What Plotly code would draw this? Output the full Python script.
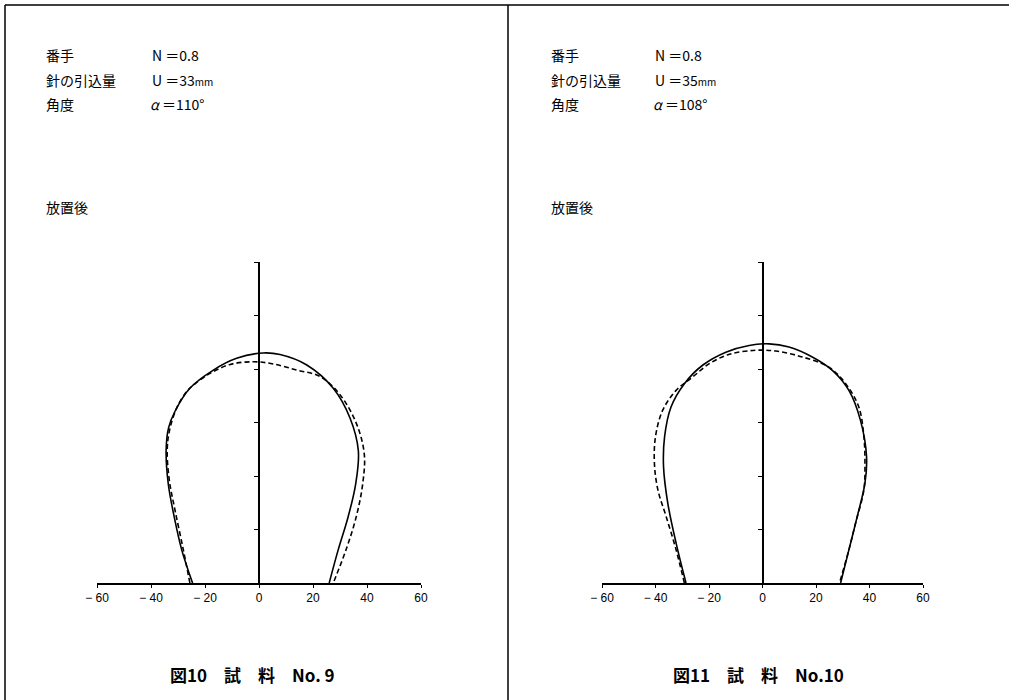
import plotly.graph_objects as go

# --- Fig.10 sample No.9 : cross-section profile (solid = before, dashed = after) ---
s9_solid_x = [-24.6, -28.6, -31.4, -33.6, -34.4, -33.5, -31.1, -25.6, -16.9, -8.3, 1.6, 7.8, 17.7, 27.5, 33.7, 36.8, 35.8, 33.0, 29.3, 26.0]
s9_solid_y = [0.0, 12.3, 24.7, 37.0, 49.4, 58.0, 64.2, 72.8, 79.6, 84.0, 86.0, 85.4, 81.5, 72.8, 61.7, 49.4, 37.0, 24.7, 12.3, 0.0]
s9_dash_x = [-25.6, -28.0, -31.1, -33.2, -34.0, -33.2, -30.5, -26.8, -24.3, -18.1, -10.7, -2.1, 5.3, 14.0, 22.6, 30.0, 36.2, 39.0, 38.4, 36.0, 32.2, 27.5]
s9_dash_y = [0.0, 12.3, 27.2, 38.3, 49.4, 56.8, 65.4, 71.6, 74.0, 78.4, 81.7, 82.7, 81.9, 79.6, 77.2, 70.4, 59.3, 48.1, 37.0, 24.7, 12.3, 0.0]

# --- Fig.11 sample No.10 ---
s10_solid_x = [-28.6, -32.3, -35.4, -37.0, -36.6, -34.2, -29.2, -22.4, -13.7, -5.0, 2.5, 9.9, 18.6, 26.1, 32.3, 36.6, 38.9, 38.3, 35.4, 32.3, 29.2]
s10_solid_y = [0.0, 14.9, 29.8, 43.5, 54.7, 65.8, 74.5, 81.4, 86.3, 88.8, 89.4, 88.2, 84.5, 79.5, 72.0, 60.9, 47.2, 37.3, 24.8, 12.4, 0.0]
s10_dash_x = [-29.2, -32.3, -36.0, -39.1, -40.4, -40.0, -37.3, -32.3, -26.1, -19.9, -12.4, -2.5, 5.0, 14.9, 24.8, 31.1, 36.0, 37.9, 38.3, 37.9, 34.8, 32.3, 28.8]
s10_dash_y = [0.0, 12.4, 24.8, 34.8, 44.7, 54.7, 64.6, 72.0, 77.0, 82.0, 85.5, 87.0, 86.7, 84.5, 80.7, 74.5, 65.8, 54.7, 44.7, 34.8, 22.4, 12.4, 0.0]

x_ticks = [-60, -40, -20, 0, 20, 40, 60]
x_tick_text = ["− 60", "− 40", "− 20", "0", "20", "40", "60"]
y_ticks = [0, 20, 40, 60, 80, 100, 120]

W, H = 1009, 700

fig = go.Figure()

def add_profile(xs, ys, xa, ya, dash):
    fig.add_trace(go.Scatter(
        x=xs, y=ys, xaxis=xa, yaxis=ya, mode="lines",
        line=dict(color="black", width=1.6, shape="spline", smoothing=1.0, dash=dash),
        showlegend=False, hoverinfo="skip"))

add_profile(s9_solid_x, s9_solid_y, "x", "y", "solid")
add_profile(s9_dash_x, s9_dash_y, "x", "y", "5px,3px")
add_profile(s10_solid_x, s10_solid_y, "x2", "y2", "solid")
add_profile(s10_dash_x, s10_dash_y, "x2", "y2", "5px,3px")

tick_font = dict(family="Liberation Sans Narrow, Liberation Sans, sans-serif", size=12, color="black")

def xaxis_cfg(d0, d1, yanchor):
    return dict(domain=[d0, d1], range=[-60, 60], anchor=yanchor, automargin=False,
                showline=True, linecolor="black", linewidth=1.5,
                tickvals=x_ticks, ticktext=x_tick_text, ticks="outside",
                ticklen=3, tickcolor="black", tickfont=tick_font,
                showgrid=False, zeroline=False, fixedrange=True)

def yaxis_cfg(pos):
    return dict(domain=[117 / H, 438 / H], range=[0, 120], anchor="free", position=pos,
                automargin=False,
                showline=True, linecolor="black", linewidth=1.5,
                tickvals=y_ticks, ticks="outside", ticklen=4, tickcolor="black",
                showticklabels=False, showgrid=False, zeroline=False, fixedrange=True)

fig.update_layout(
    width=W, height=H,
    margin=dict(l=0, r=0, t=0, b=0, pad=0, autoexpand=False),
    paper_bgcolor="white", plot_bgcolor="rgba(0,0,0,0)",
    xaxis=xaxis_cfg(97 / W, 421 / W, "y"),
    yaxis=yaxis_cfg(259 / W),
    xaxis2=xaxis_cfg(602 / W, 923 / W, "y2"),
    yaxis2=yaxis_cfg(762.5 / W),
)

# panel frame lines
frame = dict(type="line", xref="paper", yref="paper", line=dict(color="black", width=1.5))
fig.add_shape(frame, x0=5 / W, x1=5 / W, y0=0, y1=1 - 5 / H)
fig.add_shape(frame, x0=508 / W, x1=508 / W, y0=0, y1=1 - 5 / H)
fig.add_shape(frame, x0=5 / W, x1=1.01, y0=1 - 5 / H, y1=1 - 5 / H)

jp = "Noto Sans CJK JP"
txt_font = dict(family=jp, size=14, color="black")

def note(px, py, text, font=txt_font, xanchor="left"):
    fig.add_annotation(x=px / W, y=1 - py / H, xref="paper", yref="paper",
                       text=text, showarrow=False, xanchor=xanchor, yanchor="middle",
                       font=font)

small = "<span style='font-size:10px'>mm</span>"
panels = [
    (44, 150, "33", "110°", 252, "図10　試　料　No. 9"),
    (549, 653, "35", "108°", 758, "図11　試　料　No.10"),
]
for lx, vx, u, a, cx, cap in panels:
    note(lx, 55, "番手")
    note(lx, 80, "針の引込量")
    note(lx, 104, "角度")
    note(vx, 55, "N ＝0.8")
    note(vx, 80, "U ＝" + u + small)
    note(vx - 2, 104, "<i>α</i> ＝" + a)
    note(lx, 207, "放置後")
    note(cx, 674, "<b>" + cap + "</b>", font=dict(family=jp, size=17, color="black"),
         xanchor="center")

fig.write_html(
    "out.html",
    post_script="document.body.style.margin='0';document.body.style.overflow='hidden';",
)
